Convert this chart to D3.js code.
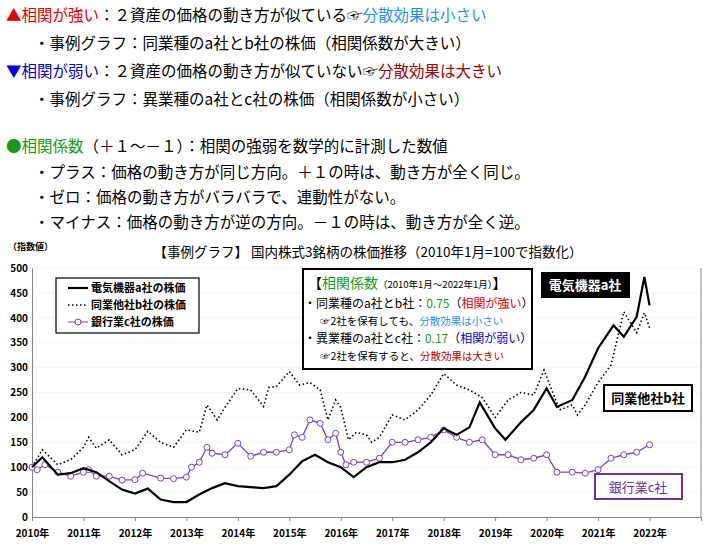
<!DOCTYPE html><html><head><meta charset="utf-8"><script src="https://cdn.jsdelivr.net/npm/d3@7"></script>
<style>body{margin:0;background:#fff}text{font-family:"Noto Sans CJK JP",sans-serif}</style></head><body><svg id="c" width="714" height="560"></svg><script>
const aX=[2010,2010.2,2010.5,2010.75,2011,2011.25,2011.5,2011.75,2012,2012.25,2012.5,2012.75,2013,2013.25,2013.5,2013.75,2014,2014.25,2014.5,2014.75,2015,2015.25,2015.5,2015.75,2016,2016.25,2016.5,2016.75,2017,2017.25,2017.5,2017.75,2018,2018.25,2018.5,2018.7,2019,2019.2,2019.5,2019.75,2020,2020.2,2020.5,2020.75,2021,2021.3,2021.5,2021.75,2021.9,2022];
const aV=[100,120,85,88,98,90,72,55,47,57,35,30,30,45,58,68,62,60,58,62,85,112,125,110,100,80,100,110,110,115,130,150,178,165,180,230,178,155,190,215,258,221,235,282,339,385,362,402,482,425];
const bX=[2010,2010.2,2010.5,2010.75,2011,2011.1,2011.25,2011.5,2011.75,2012,2012.25,2012.5,2012.75,2013,2013.25,2013.4,2013.6,2013.75,2014,2014.25,2014.5,2014.6,2014.75,2015,2015.2,2015.4,2015.6,2015.75,2015.9,2016,2016.15,2016.3,2016.5,2016.6,2016.75,2017,2017.25,2017.5,2017.75,2018,2018.25,2018.5,2018.75,2019,2019.25,2019.5,2019.75,2019.95,2020.25,2020.5,2020.6,2020.75,2021,2021.25,2021.5,2021.75,2021.9,2022];
const bV=[100,135,105,115,140,160,138,155,125,135,172,150,140,175,170,225,195,220,258,255,222,260,262,292,265,270,255,195,235,220,155,170,165,150,160,205,195,215,245,288,265,255,240,200,235,250,245,295,215,225,205,225,270,305,412,370,410,380];
const cX=[2010,2010.1,2010.25,2010.5,2010.75,2011,2011.1,2011.25,2011.5,2011.75,2012,2012.15,2012.5,2012.75,2013,2013.1,2013.25,2013.4,2013.5,2013.75,2014,2014.25,2014.5,2014.75,2015,2015.1,2015.25,2015.4,2015.6,2015.75,2015.9,2016,2016.1,2016.25,2016.5,2016.75,2017,2017.25,2017.5,2017.75,2018,2018.25,2018.5,2018.75,2019,2019.25,2019.5,2019.75,2020,2020.2,2020.5,2020.75,2021,2021.25,2021.5,2021.75,2022];
const cV=[100,95,105,90,82,90,95,82,82,74,75,88,78,77,80,100,110,140,128,125,148,122,130,130,135,165,160,195,188,155,168,130,105,110,110,118,150,150,155,160,175,160,150,155,125,125,115,118,125,90,90,88,95,118,125,130,145];
const yTicks=[0,50,100,150,200,250,300,350,400,450,500];
const years=d3.range(2010,2023);
const svg=d3.select("#c");
const x=d3.scaleLinear().domain([2010,2023]).range([32,701]);
const y=d3.scaleLinear().domain([0,500]).range([517,268]);
const lines=[
 [21,6,[["▲相関が強い","#e00000"],["：２資産の価格の動き方が似ている☞","#000"],["分散効果は小さい","#1e90ff"]]],
 [49,34,[["・事例グラフ：同業種のa社とb社の株価（相関係数が大きい）","#000"]]],
 [77,6,[["▼相関が弱い","#0000e0"],["：２資産の価格の動き方が似ていない☞","#000"],["分散効果は大きい","#a00000"]]],
 [105,34,[["・事例グラフ：異業種のa社とc社の株価（相関係数が小さい）","#000"]]],
 [152,6,[["●相関係数","#1a9a1a"],["（＋１－－１）：相関の強弱を数学的に計測した数値","#000"]]],
 [178,34,[["・プラス：価格の動き方が同じ方向。＋１の時は、動き方が全く同じ。","#000"]]],
 [203,34,[["・ゼロ：価格の動き方がバラバラで、連動性がない。","#000"]]],
 [228,34,[["・マイナス：価格の動き方が逆の方向。－１の時は、動き方が全く逆。","#000"]]]];
lines.forEach(([yy,xx,segs])=>{const t=svg.append("text").attr("x",xx).attr("y",yy).attr("font-size",15.5);segs.forEach(s=>t.append("tspan").attr("fill",s[1]).text(s[0]));});
svg.select("text:nth-of-type(5) tspan:nth-child(2)").text("（＋１～－１）：相関の強弱を数学的に計測した数値");
svg.append("text").attr("x",8).attr("y",250).attr("font-size",9).attr("font-weight","bold").text("（指数値）");
svg.append("text").attr("x",368).attr("y",257).attr("text-anchor","middle").attr("font-size",13.5).text("【事例グラフ】 国内株式3銘柄の株価推移（2010年1月=100で指数化）");
svg.append("g").selectAll("line").data(yTicks.slice(1)).join("line").attr("x1",32).attr("x2",701).attr("y1",d=>y(d)).attr("y2",d=>y(d)).attr("stroke","#eee").attr("stroke-dasharray","2,2");
svg.append("g").attr("transform","translate(32,0)").call(d3.axisLeft(y).tickValues(yTicks).tickSize(0).tickPadding(4)).call(g=>{g.select(".domain").attr("stroke","#888");g.selectAll("text").attr("font-size",10).attr("font-weight","bold").attr("font-family","Liberation Sans,sans-serif");});
svg.append("g").attr("transform","translate(0,517)").call(d3.axisBottom(x).tickValues(years).tickSize(4).tickFormat(d=>d+"年")).call(g=>{g.select(".domain").attr("stroke","#888");g.selectAll("line").attr("stroke","#888");g.selectAll("text").attr("font-size",10).attr("font-weight","bold").attr("dy","1.3em");});
svg.append("line").attr("x1",701).attr("x2",701).attr("y1",268).attr("y2",517).attr("stroke","#888");
const line=d3.line().x(d=>x(d[0])).y(d=>y(d[1]));
svg.append("path").datum(bX.map((v,i)=>[v,bV[i]])).attr("d",line).attr("fill","none").attr("stroke","#000").attr("stroke-width",1.6).attr("stroke-dasharray","1.5,2.5");
const cd=cX.map((v,i)=>[v,cV[i]]);
svg.append("path").datum(cd).attr("d",line).attr("fill","none").attr("stroke","#8040c0").attr("stroke-width",1.3);
svg.append("g").selectAll("circle").data(cd).join("circle").attr("cx",d=>x(d[0])).attr("cy",d=>y(d[1])).attr("r",3).attr("fill","#fff").attr("stroke","#8040c0").attr("stroke-width",1);
svg.append("path").datum(aX.map((v,i)=>[v,aV[i]])).attr("d",line).attr("fill","none").attr("stroke","#000").attr("stroke-width",2.2);
svg.append("rect").attr("x",56).attr("y",278).attr("width",143).attr("height",55).attr("fill","#fff").attr("stroke","#000").attr("stroke-width",1.2);
const lg=[["電気機器a社の株価","solid"],["同業他社b社の株価","dot"],["銀行業c社の株価","c"]];
lg.forEach((d,i)=>{const yy=288+i*17;const l=svg.append("line").attr("x1",68).attr("x2",88).attr("y1",yy).attr("y2",yy);
 if(d[1]=="solid")l.attr("stroke","#000").attr("stroke-width",2.2);
 else if(d[1]=="dot")l.attr("stroke","#000").attr("stroke-width",1.6).attr("stroke-dasharray","1.5,2.5");
 else{l.attr("stroke","#8040c0");svg.append("circle").attr("cx",78).attr("cy",yy).attr("r",3).attr("fill","#fff").attr("stroke","#8040c0");}
 svg.append("text").attr("x",91).attr("y",yy+4).attr("font-size",11).attr("font-weight","bold").text(d[0]);});
svg.append("rect").attr("x",303).attr("y",269).attr("width",229).attr("height",100).attr("fill","#fff").attr("stroke","#000").attr("stroke-width",2);
const bl=[[288,308,[["【","#000",14],["相関係数","#1a9a1a",14],["（2010年1月～2022年1月）","#000",9.5],["】","#000",14]]],
 [308,304,[["・同業種のa社とb社：","#000",12],["0.75","#1a9a1a",12],["（","#000",12],["相関が強い","#e00000",12],["）","#000",12]]],
 [325,320,[["☞2社を保有しても、","#000",10.5],["分散効果は小さい","#1e90ff",10.5]]],
 [343,304,[["・異業種のa社とc社：","#000",12],["0.17","#1a9a1a",12],["（","#000",12],["相関が弱い","#0000e0",12],["）","#000",12]]],
 [360,320,[["☞2社を保有すると、","#000",10.5],["分散効果は大きい","#c00000",10.5]]]];
bl.forEach(([yy,xx,segs])=>{const t=svg.append("text").attr("x",xx).attr("y",yy);segs.forEach(s=>t.append("tspan").attr("fill",s[1]).attr("font-size",s[2]).text(s[0]));});
svg.append("rect").attr("x",541).attr("y",272).attr("width",89).attr("height",26).attr("fill","#000");
svg.append("text").attr("x",585).attr("y",290).attr("text-anchor","middle").attr("fill","#fff").attr("font-size",13).attr("font-weight","bold").text("電気機器a社");
svg.append("rect").attr("x",604).attr("y",385).attr("width",88).attr("height",26).attr("fill","#fff").attr("stroke","#000").attr("stroke-width",2);
svg.append("text").attr("x",648).attr("y",403).attr("text-anchor","middle").attr("font-size",13).attr("font-weight","bold").text("同業他社b社");
svg.append("rect").attr("x",595).attr("y",474).attr("width",87).attr("height",25).attr("fill","#fff").attr("stroke","#7030a0").attr("stroke-width",2);
svg.append("text").attr("x",638).attr("y",492).attr("text-anchor","middle").attr("fill","#7030a0").attr("font-size",13).text("銀行業c社");
</script></body></html>
